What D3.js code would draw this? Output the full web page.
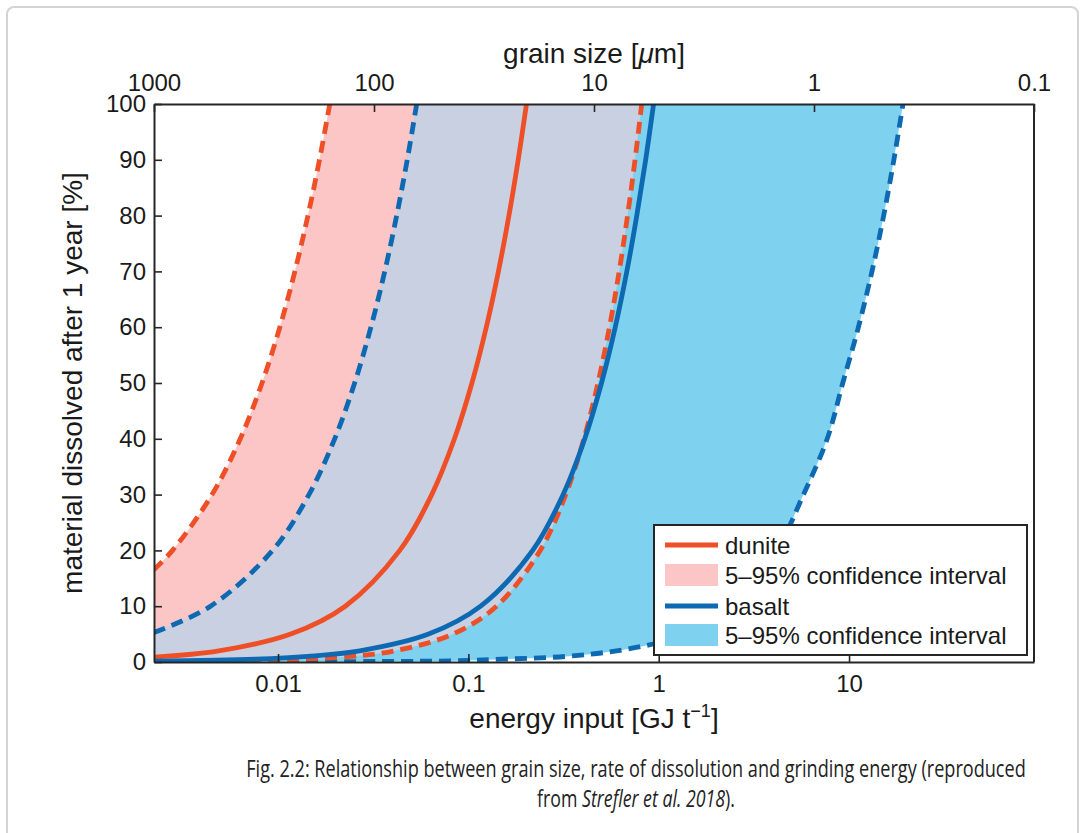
<!DOCTYPE html>
<html><head><meta charset="utf-8">
<script src="https://cdn.jsdelivr.net/npm/d3@7"></script>
<style>body{margin:0;background:#fff;}</style>
</head><body>
<script>
// ---------- data ----------
const energyTicks = [0.01, 0.1, 1, 10];
const energyTickLabels = ["0.01", "0.1", "1", "10"];
const grainTicks = [1000, 100, 10, 1, 0.1];
const grainTickLabels = ["1000", "100", "10", "1", "0.1"];
const percentTicks = [0, 10, 20, 30, 40, 50, 60, 70, 80, 90, 100];
const energyDomain = [0.00223, 93.7];   // GJ t^-1 at left / right plot edge
const grainDomain = [1000, 0.1];        // µm at left / right plot edge

// curves: [energy GJ/t, % dissolved]
const duniteUpper = [[0.00222,16.5],[0.00279,20],[0.0045,30],[0.00633,40],[0.00824,50],[0.01022,60],[0.01226,70],[0.01436,80],[0.01651,90],[0.0187,100]];
const duniteMedian = [[0.00223,0.88],[0.00488,2],[0.01166,5],[0.02256,10],[0.0436,20],[0.0642,30],[0.0845,40],[0.1044,50],[0.1242,60],[0.1438,70],[0.1633,80],[0.1827,90],[0.202,100]];
const duniteLower = [[0.00223,0.04],[0.005,0.13],[0.0242,1],[0.0411,2],[0.0828,5],[0.1405,10],[0.2385,20],[0.3248,30],[0.4046,40],[0.4795,50],[0.551,60],[0.62,70],[0.686,80],[0.751,90],[0.814,100]];
const basaltUpper = [[0.00223,5.3],[0.00442,10],[0.00936,20],[0.01453,30],[0.01984,40],[0.02526,50],[0.03076,60],[0.03636,70],[0.042,80],[0.04773,90],[0.0535,100]];
const basaltMedian = [[0.00223,0.13],[0.0076,0.5],[0.0143,1],[0.0269,2],[0.0618,5],[0.116,10],[0.2177,20],[0.3146,30],[0.4087,40],[0.5006,50],[0.591,60],[0.68,70],[0.767,80],[0.854,90],[0.94,100]];
const basaltLower = [[0.00223,0.02],[0.035,0.1],[0.079,0.2],[0.15,0.5],[0.326,1],[0.6,2],[1.0,3.5],[1.33,5],[2.42,10],[4.16,20],[5.76,30],[7.68,40],[9.27,50],[11.2,60],[13.2,70],[15.2,80],[17.2,90],[19.2,100]];

const legendLabels = ["dunite", "5\u201395% confidence interval", "basalt", "5\u201395% confidence interval"];
const captionLine1 = "Fig. 2.2: Relationship between grain size, rate of dissolution and grinding energy (reproduced";

// ---------- styles ----------
const C = {
  red: "#ee4f26", blue: "#0d69b2",
  pink: "#fcc6c6", lightBlue: "#7ed1ef", overlap: "#c9d0e1",
  axis: "#262626"
};
const W = 1085, H = 833;
const plot = {x0: 154, x1: 1034, y0: 104, y1: 662};
const FONT = "'Liberation Sans', Arial, Helvetica, sans-serif";

const svg = d3.select("body").append("svg").attr("width", W).attr("height", H)
  .style("font-family", FONT);

// figure frame
svg.append("rect").attr("x", 7).attr("y", 7).attr("width", 1071).attr("height", 900)
  .attr("rx", 7).attr("fill", "none").attr("stroke", "#d4d4d4").attr("stroke-width", 2);

const x = d3.scaleLog().domain(energyDomain).range([plot.x0, plot.x1]);
const xTop = d3.scaleLog().domain(grainDomain).range([plot.x0, plot.x1]);
const y = d3.scaleLinear().domain([0, 100]).range([plot.y1, plot.y0]);

const defs = svg.append("defs");
defs.append("clipPath").attr("id", "plotClip").append("rect")
  .attr("x", plot.x0).attr("y", plot.y0).attr("width", plot.x1 - plot.x0).attr("height", plot.y1 - plot.y0);

const line = d3.line().x(d => x(d[0])).y(d => y(d[1])).curve(d3.curveCatmullRom.alpha(0.5));
function band(upper, lower) {
  const a = line(upper);
  const b = line(lower.slice().reverse());
  return a + "L" + b.slice(1) + "Z";
}
const duniteBand = band(duniteUpper, duniteLower);
const basaltBand = band(basaltUpper, basaltLower);
defs.append("clipPath").attr("id", "duniteClip").append("path").attr("d", duniteBand);

const g = svg.append("g").attr("clip-path", "url(#plotClip)");
g.append("path").attr("d", duniteBand).attr("fill", C.pink);
g.append("path").attr("d", basaltBand).attr("fill", C.lightBlue);
g.append("g").attr("clip-path", "url(#duniteClip)")
  .append("path").attr("d", basaltBand).attr("fill", C.overlap);

function drawLine(data, color, dashed) {
  g.append("path").attr("d", line(data)).attr("fill", "none")
    .attr("stroke", color).attr("stroke-width", 4.8)
    .attr("stroke-dasharray", dashed ? "12,7" : null);
}
drawLine(basaltLower, C.blue, true);
drawLine(duniteLower, C.red, true);
drawLine(duniteUpper, C.red, true);
drawLine(basaltUpper, C.blue, true);
drawLine(duniteMedian, C.red, false);
drawLine(basaltMedian, C.blue, false);

// ---------- axes ----------
function styleAxis(sel) {
  sel.attr("font-family", FONT).attr("font-size", 24);
  sel.selectAll("path.domain").attr("stroke", C.axis).attr("stroke-width", 2);
  sel.selectAll(".tick line").attr("stroke", C.axis).attr("stroke-width", 1.6);
  sel.selectAll(".tick text").attr("fill", "#1a1a1a");
}
const xAxis = d3.axisBottom(x).tickValues(energyTicks)
  .tickFormat((d, i) => energyTickLabels[i]).tickSizeInner(-8).tickSizeOuter(0).tickPadding(13);
svg.append("g").attr("transform", `translate(0,${plot.y1})`).call(xAxis).call(styleAxis);

const topAxis = d3.axisTop(xTop).tickValues(grainTicks)
  .tickFormat((d, i) => grainTickLabels[i]).tickSizeInner(-8).tickSizeOuter(0).tickPadding(13);
svg.append("g").attr("transform", `translate(0,${plot.y0})`).call(topAxis).call(styleAxis);

const yAxis = d3.axisLeft(y).tickValues(percentTicks).tickSizeInner(-8).tickSizeOuter(0).tickPadding(8);
svg.append("g").attr("transform", `translate(${plot.x0},0)`).call(yAxis).call(styleAxis);

// right frame line
svg.append("line").attr("x1", plot.x1).attr("x2", plot.x1).attr("y1", plot.y0).attr("y2", plot.y1)
  .attr("stroke", C.axis).attr("stroke-width", 2);

// axis titles
const xt = svg.append("text").attr("x", (plot.x0 + plot.x1) / 2).attr("y", 728)
  .attr("text-anchor", "middle").attr("font-size", 28).attr("fill", "#1a1a1a");
xt.append("tspan").text("energy input [GJ t");
xt.append("tspan").attr("font-size", 18).attr("dy", -11).text("\u22121");
xt.append("tspan").attr("dy", 11).text("]");

const tt = svg.append("text").attr("x", (plot.x0 + plot.x1) / 2).attr("y", 63)
  .attr("text-anchor", "middle").attr("font-size", 28).attr("fill", "#1a1a1a");
tt.append("tspan").text("grain size [");
tt.append("tspan").attr("font-style", "italic").text("\u03bc");
tt.append("tspan").text("m]");

svg.append("text").attr("transform", `translate(82,${(plot.y0 + plot.y1) / 2}) rotate(-90)`)
  .attr("text-anchor", "middle").attr("font-size", 28).attr("fill", "#1a1a1a")
  .text("material dissolved after 1 year [%]");

// ---------- legend ----------
const lg = svg.append("g");
lg.append("rect").attr("x", 654).attr("y", 525).attr("width", 373).attr("height", 130)
  .attr("fill", "#fff").attr("stroke", C.axis).attr("stroke-width", 2);
const rowsY = [545, 575, 606, 635];
const legendKinds = [["line", C.red], ["patch", C.pink], ["line", C.blue], ["patch", C.lightBlue]];
legendLabels.forEach((lab, i) => {
  const [kind, col] = legendKinds[i];
  if (kind === "line") {
    lg.append("line").attr("x1", 665).attr("x2", 718).attr("y1", rowsY[i]).attr("y2", rowsY[i])
      .attr("stroke", col).attr("stroke-width", 4.8);
  } else {
    lg.append("rect").attr("x", 665).attr("y", rowsY[i] - 11).attr("width", 53).attr("height", 22)
      .attr("fill", col);
  }
  lg.append("text").attr("x", 725).attr("y", rowsY[i] + 8.5).attr("font-size", 24)
    .attr("fill", "#1a1a1a").text(lab);
});

// ---------- caption (condensed by horizontal scaling) ----------
const CAP = "'Open Sans', 'Noto Sans', sans-serif";
function captionLine(yPos, targetWidth, build) {
  const grp = svg.append("g");
  const t = grp.append("text").attr("x", 0).attr("y", 0).attr("text-anchor", "middle")
    .attr("font-family", CAP).attr("font-size", 24).attr("fill", "#222");
  build(t);
  const w = t.node().getComputedTextLength();
  grp.attr("transform", `translate(636,${yPos}) scale(${targetWidth / w},1)`);
}
captionLine(777, 780, t => t.text(captionLine1));
captionLine(807, 198, t => {
  t.append("tspan").text("from ");
  t.append("tspan").attr("font-style", "italic").text("Strefler et al. 2018");
  t.append("tspan").text(").");
});
</script>
</body></html>
